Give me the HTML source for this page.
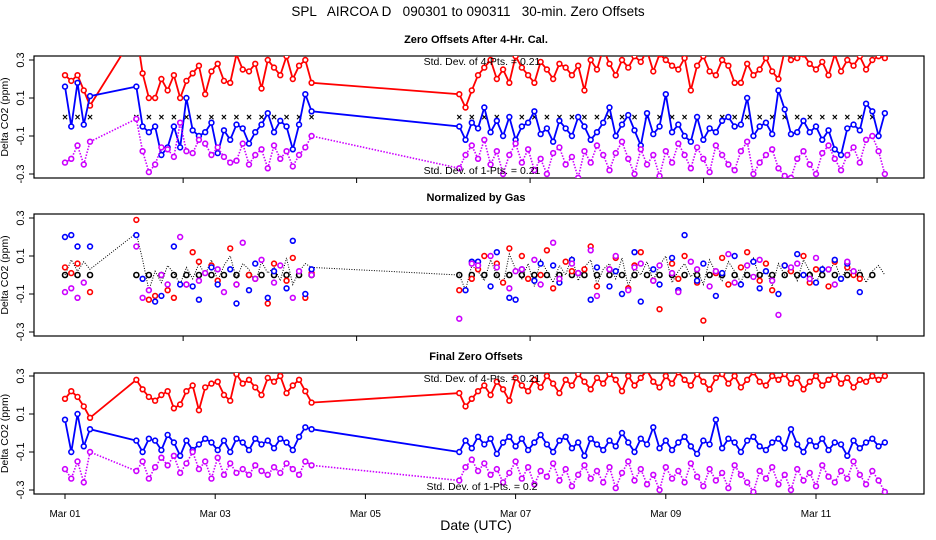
<!DOCTYPE html>
<html><head><meta charset="utf-8">
<style>
html,body{margin:0;padding:0;background:#fff;}
svg{display:block;font-family:"Liberation Sans",sans-serif;}
</style></head>
<body>
<svg id="chart" width="936" height="540" viewBox="0 0 936 540" xmlns="http://www.w3.org/2000/svg">
<text x="468" y="16" text-anchor="middle" font-size="13.5" style="white-space:pre">SPL   AIRCOA D   090301 to 090311   30-min. Zero Offsets</text>
<text x="476" y="530" text-anchor="middle" font-size="14">Date (UTC)</text>
</svg>
<script>
// ---- data ----
const segments = [[1.0,5],[1.95,29],[6.25,69]]; // [start day, count] sampled every 2 h
const calSegments = [[1.0,3],[1.95,15],[6.25,34]]; // 4-hr cal times
const p1Red = [0.22,0.19,0.22,0.14,0.06,
 0.45,0.23,0.10,0.10,0.20,0.14,0.22,0.10,0.19,0.23,0.27,0.12,0.24,0.28,0.19,0.18,0.33,0.25,0.24,0.28,0.15,0.30,0.26,0.22,0.32,0.20,0.27,0.30,0.18,
 0.12,0.05,0.14,0.22,0.26,0.30,0.20,0.25,0.18,0.32,0.26,0.22,0.18,0.29,0.25,0.20,0.28,0.26,0.22,0.27,0.14,0.30,0.25,0.36,0.28,0.22,0.30,0.26,0.32,0.29,0.35,0.24,0.33,0.30,0.27,0.25,0.31,0.14,0.27,0.32,0.24,0.22,0.30,0.27,0.18,0.18,0.28,0.22,0.25,0.31,0.24,0.20,0.35,0.30,0.31,0.33,0.28,0.25,0.29,0.22,0.33,0.24,0.30,0.27,0.32,0.25,0.30,0.32,0.31];
const p1Blue = [0.16,-0.05,0.18,-0.04,0.11,
 0.16,-0.05,-0.08,-0.05,-0.20,-0.16,-0.05,-0.16,0.10,-0.07,-0.10,-0.08,-0.03,-0.19,-0.07,-0.12,-0.04,-0.06,-0.14,-0.08,-0.04,0.02,-0.08,-0.02,-0.05,-0.17,-0.04,0.12,0.03,
 -0.05,-0.12,-0.03,-0.06,0.05,-0.08,-0.02,-0.10,0.00,-0.12,-0.05,-0.03,0.03,-0.09,-0.06,-0.13,-0.02,-0.06,-0.10,0.00,-0.05,-0.12,-0.08,-0.03,0.05,-0.10,-0.04,0.01,-0.07,-0.15,0.02,-0.09,-0.05,0.12,-0.08,-0.04,-0.10,-0.13,0.00,-0.12,-0.06,-0.08,-0.02,0.00,-0.05,-0.04,0.10,-0.10,-0.05,-0.03,-0.09,0.14,0.04,-0.09,-0.08,-0.02,-0.08,-0.05,-0.12,-0.07,-0.17,-0.20,-0.06,-0.04,-0.07,0.07,0.03,-0.10,0.02];
const p1Mag = [-0.24,-0.22,-0.15,-0.25,-0.13,
 -0.01,-0.18,-0.29,-0.25,-0.16,-0.17,-0.21,-0.03,-0.18,-0.19,-0.12,-0.14,-0.20,-0.16,-0.21,-0.24,-0.23,-0.14,-0.25,-0.20,-0.17,-0.27,-0.15,-0.22,-0.18,-0.26,-0.20,-0.16,-0.10,
 -0.27,-0.20,-0.15,-0.22,-0.12,-0.25,-0.18,-0.30,-0.20,-0.14,-0.24,-0.17,-0.28,-0.22,-0.30,-0.19,-0.16,-0.25,-0.21,-0.32,-0.18,-0.24,-0.15,-0.20,-0.28,-0.19,-0.13,-0.22,-0.30,-0.17,-0.25,-0.20,-0.31,-0.18,-0.24,-0.14,-0.20,-0.27,-0.16,-0.22,-0.29,-0.15,-0.20,-0.25,-0.28,-0.18,-0.13,-0.30,-0.24,-0.20,-0.17,-0.27,-0.31,-0.32,-0.22,-0.18,-0.25,-0.30,-0.19,-0.15,-0.22,-0.28,-0.20,-0.16,-0.24,-0.12,-0.10,-0.18,-0.30];
const p2Red = [0.04,0.01,0.06,null,-0.09,
 0.29,null,-0.13,-0.11,null,-0.08,-0.12,null,-0.05,0.12,0.07,null,0.05,-0.03,null,0.14,-0.05,null,0.00,-0.02,null,-0.15,0.06,null,-0.03,0.09,null,-0.12,0.01,
 -0.08,null,-0.02,0.03,0.10,null,0.06,-0.04,0.14,null,0.10,-0.02,null,0.00,0.13,-0.07,null,0.07,0.02,null,0.03,0.15,-0.06,null,0.03,0.09,null,-0.07,0.05,0.12,null,-0.03,-0.18,null,0.06,-0.02,0.10,null,-0.04,-0.24,null,0.01,0.09,-0.05,null,0.04,0.12,null,-0.03,0.06,-0.08,null,0.05,0.02,null,0.10,-0.04,0.03,null,-0.06,0.07,null,0.04,0.00,-0.02];
const p2Blue = [0.20,0.21,0.15,null,0.15,
 0.21,-0.02,null,-0.14,-0.11,null,0.15,-0.05,null,-0.06,-0.13,null,0.04,-0.05,null,0.03,-0.15,null,-0.08,0.06,null,-0.12,0.02,null,-0.07,0.18,null,-0.10,0.03,
 null,-0.08,0.07,0.07,null,-0.06,0.12,null,-0.12,-0.13,0.03,null,-0.03,0.06,null,0.05,-0.04,null,0.08,0.01,null,-0.13,0.04,null,-0.06,0.02,-0.10,null,0.12,-0.14,null,0.03,-0.05,null,0.09,-0.08,0.21,null,-0.03,0.06,null,-0.11,0.01,null,0.10,-0.05,null,0.07,-0.07,0.02,null,-0.10,0.05,null,0.11,0.00,null,-0.04,0.03,null,0.08,-0.02,0.06,null,-0.09];
const p2Mag = [-0.09,-0.07,-0.12,-0.04,null,
 0.15,-0.12,-0.08,null,0.00,-0.05,null,0.20,-0.05,null,-0.03,0.01,null,0.03,-0.09,null,-0.05,0.17,null,-0.02,0.08,null,-0.04,0.05,null,-0.12,0.02,null,0.00,
 -0.23,null,0.06,0.05,null,0.10,0.04,null,-0.07,0.02,0.03,null,0.08,-0.05,null,0.17,-0.02,null,0.06,0.01,null,0.13,-0.11,null,0.03,0.10,null,-0.08,0.04,0.06,null,-0.03,0.05,null,0.01,-0.09,null,0.07,0.03,null,-0.06,0.02,null,0.11,-0.04,null,0.05,-0.01,0.08,null,-0.03,-0.21,null,0.04,0.06,null,-0.02,0.09,null,0.03,-0.05,null,0.07,0.02];
const p2Mean = [0.00,0.08,0.02,0.07,0.03,
 0.22,0.08,-0.08,0.02,-0.04,0.05,0.01,-0.05,0.04,-0.02,0.06,0.00,0.08,-0.03,0.05,0.10,-0.02,0.06,0.03,-0.04,0.07,0.01,0.04,-0.03,0.09,-0.05,0.02,0.06,0.04,
 0.00,-0.08,0.05,0.02,-0.03,0.08,0.00,-0.05,0.11,0.03,-0.02,0.06,-0.06,0.08,0.02,-0.04,0.05,0.00,0.10,-0.03,0.04,0.08,-0.05,0.03,0.06,-0.02,0.09,-0.06,0.04,0.00,0.07,-0.03,0.05,0.10,-0.04,0.02,0.06,-0.01,0.03,-0.05,0.08,0.01,-0.03,0.07,0.02,-0.04,0.05,0.09,-0.02,0.03,-0.06,0.06,0.00,0.04,-0.03,0.08,0.02,-0.05,0.05,0.01,0.07,-0.02,0.04,0.00,0.03,-0.04,0.02,0.05,0.00];
const p3Red = [0.18,0.22,0.19,0.14,0.08,
 0.28,0.23,0.19,0.17,0.20,0.22,0.13,0.15,0.22,0.25,0.12,0.24,0.26,0.27,0.20,0.17,0.31,0.26,0.28,0.24,0.20,0.29,0.27,0.30,0.21,0.25,0.28,0.22,0.16,
 0.21,0.14,0.18,0.22,0.25,0.20,0.27,0.23,0.17,0.29,0.25,0.22,0.28,0.24,0.30,0.26,0.21,0.28,0.25,0.31,0.27,0.23,0.29,0.26,0.31,0.28,0.22,0.30,0.25,0.29,0.33,0.27,0.24,0.30,0.26,0.32,0.28,0.25,0.31,0.27,0.23,0.29,0.31,0.26,0.30,0.24,0.28,0.32,0.27,0.25,0.30,0.28,0.31,0.26,0.29,0.23,0.27,0.30,0.25,0.28,0.31,0.26,0.29,0.24,0.28,0.27,0.30,0.28,0.30];
const p3Blue = [0.07,-0.10,0.10,-0.07,0.02,
 -0.04,-0.10,-0.03,-0.04,-0.09,-0.01,-0.05,-0.12,-0.04,-0.09,-0.06,-0.03,-0.05,-0.09,-0.04,-0.10,-0.03,-0.05,-0.09,-0.03,-0.06,-0.04,-0.08,-0.03,-0.05,-0.09,-0.02,0.03,0.02,
 -0.10,-0.04,-0.08,-0.02,-0.06,-0.03,-0.11,-0.05,-0.02,-0.07,-0.03,-0.09,-0.05,-0.01,-0.06,-0.10,-0.04,-0.02,-0.08,-0.05,-0.12,-0.03,-0.06,-0.09,-0.04,-0.07,0.00,-0.05,-0.10,-0.03,-0.06,0.03,-0.08,-0.04,-0.09,-0.05,-0.02,-0.07,-0.11,-0.04,-0.06,0.07,-0.08,-0.03,-0.05,-0.10,-0.04,-0.02,-0.07,-0.09,-0.05,-0.03,-0.08,0.02,-0.06,-0.10,-0.04,-0.07,-0.03,-0.09,-0.05,-0.06,-0.12,-0.04,-0.08,-0.05,-0.03,-0.07,-0.05];
const p3Mag = [-0.19,-0.24,-0.15,-0.26,-0.10,
 -0.20,-0.15,-0.24,-0.18,-0.13,-0.17,-0.12,-0.21,-0.16,-0.10,-0.19,-0.15,-0.24,-0.13,-0.22,-0.16,-0.21,-0.19,-0.22,-0.17,-0.20,-0.22,-0.18,-0.21,-0.16,-0.19,-0.22,-0.15,-0.17,
 -0.25,-0.18,-0.14,-0.20,-0.16,-0.22,-0.19,-0.26,-0.21,-0.15,-0.24,-0.18,-0.27,-0.20,-0.23,-0.16,-0.25,-0.19,-0.28,-0.22,-0.17,-0.24,-0.20,-0.26,-0.18,-0.29,-0.21,-0.15,-0.25,-0.19,-0.27,-0.22,-0.30,-0.18,-0.24,-0.20,-0.26,-0.16,-0.23,-0.28,-0.19,-0.25,-0.21,-0.29,-0.17,-0.22,-0.26,-0.31,-0.20,-0.24,-0.18,-0.27,-0.22,-0.30,-0.19,-0.25,-0.21,-0.28,-0.17,-0.23,-0.26,-0.20,-0.24,-0.15,-0.22,-0.27,-0.20,-0.25,-0.31];
const yTicks = [-0.3,-0.1,0.1,0.3];
const yTickLabels = ["-0.3","-0.1","0.1","0.3"];
const dateTicks = [1,3,5,7,9,11];
const dateLabels = ["Mar 01","Mar 03","Mar 05","Mar 07","Mar 09","Mar 11"];
const topTickDays = [2.573,4.883,7.193,9.503,11.813];

// ---- scales ----
const NS="http://www.w3.org/2000/svg";
const svg=document.getElementById('chart');
const X0=34, X1=924;
function xs(d){return 65+75.1*(d-1);}
function mk(tag,attrs,parent){const e=document.createElementNS(NS,tag);for(const k in attrs)e.setAttribute(k,attrs[k]);(parent||svg).appendChild(e);return e;}
function times(segs,step){const t=[];segs.forEach(s=>{for(let i=0;i<s[1];i++)t.push(s[0]+i*step);});return t;}
const T=times(segments,1/12);
const CT=times(calSegments,1/6);

const panels=[
 {name:'panel-after-cal',title:'Zero Offsets After 4-Hr. Cal.',top:56,bot:178,y3:60,ym3:174,series:[[p1Red,'#ff0000','solid'],[p1Blue,'#0000ff','solid'],[p1Mag,'#cc00ff','dot']],marker:'x',sd:['Std. Dev. of 4-Pts. = 0.21','Std. Dev. of 1-Pts. = 0.21'],ticks:'top'},
 {name:'panel-normalized',title:'Normalized by Gas',top:214,bot:336,y3:218,ym3:332,series:[[p2Red,'#ff0000','none'],[p2Blue,'#0000ff','none'],[p2Mag,'#cc00ff','none']],marker:'o',sd:null,ticks:'top'},
 {name:'panel-final',title:'Final Zero Offsets',top:373,bot:494,y3:376,ym3:490,series:[[p3Red,'#ff0000','solid'],[p3Blue,'#0000ff','solid'],[p3Mag,'#cc00ff','dot']],marker:null,sd:['Std. Dev. of 4-Pts. = 0.21','Std. Dev. of 1-Pts. = 0.2'],ticks:'dates'}
];

panels.forEach((p,pi)=>{
 const ys=v=>p.ym3+(v+0.3)*(p.y3-p.ym3)/0.6;
 const g=mk('g',{});
 
 
 const cid='clip'+pi;
 const cp=mk('clipPath',{id:cid},g);
 mk('rect',{x:X0,y:p.top,width:X1-X0,height:p.bot-p.top},cp);
 const t=mk('text',{x:476,y:p.top-13,'text-anchor':'middle','font-size':'11','font-weight':'bold'},g);
 t.textContent=p.title;
 
 
 const ax=mk('g',{},g);
 
 
 mk('line',{x1:X0,x2:X0,y1:ys(-0.3),y2:ys(0.3),stroke:'#000'},ax);
 yTicks.forEach((v,i)=>{
  mk('line',{x1:X0-5,x2:X0,y1:ys(v),y2:ys(v),stroke:'#000'},ax);
  const l=mk('text',{x:0,y:0,'text-anchor':'middle','font-size':'11',transform:`translate(${X0-10},${ys(v)}) rotate(-90)`},ax);
  l.textContent=yTickLabels[i];
  
  
 });
 const yl=mk('text',{'text-anchor':'middle','font-size':'10.5',transform:`translate(8,${(p.top+p.bot)/2}) rotate(-90)`},ax);
 yl.textContent='Delta CO2 (ppm)';
 
 
 const b=mk('rect',{x:X0,y:p.top,width:X1-X0,height:p.bot-p.top,fill:'none',stroke:'#000','stroke-width':1.2},g);
 
 
 if(p.ticks==='top'){
  topTickDays.forEach(d=>mk('line',{x1:xs(d),x2:xs(d),y1:p.bot,y2:p.bot+5,stroke:'#000'},g));
 } else {
  mk('line',{x1:xs(1),x2:xs(11),y1:p.bot,y2:p.bot,stroke:'#000'},g);
  dateTicks.forEach((d,i)=>{
   mk('line',{x1:xs(d),x2:xs(d),y1:p.bot,y2:p.bot+5,stroke:'#000'},g);
   const l=mk('text',{x:xs(d),y:p.bot+23,'text-anchor':'middle','font-size':'10'},g);
   l.textContent=dateLabels[i];
   
   
  });
 }
 const plot=mk('g',{'clip-path':`url(#${cid})`},g);
 if(pi===1){
  let d='';p2Mean.forEach((v,i)=>{if(i<T.length)d+=(i?'L':'M')+xs(T[i]).toFixed(1)+','+ys(v).toFixed(1);});
  const ml=mk('path',{d,fill:'none',stroke:'#000','stroke-width':1,'stroke-dasharray':'1,1.5'},plot);
  
  
 }
 if(p.marker){
  CT.forEach(d=>{
   if(p.marker==='x'){
    const m=mk('text',{x:xs(d),y:ys(0)+3.5,'text-anchor':'middle','font-size':'10','font-weight':'bold'},plot);
    m.textContent='×';
    
    
   } else {
    const m=mk('circle',{cx:xs(d),cy:ys(0),r:2.5,fill:'none',stroke:'#000','stroke-width':1.6},plot);
    
    
   }
  });
 }
 p.series.forEach(([vals,col,style],si)=>{
  const sg=mk('g',{},plot);
  
  
  if(style!=='none'){
   let d='';let first=true;
   vals.forEach((v,i)=>{if(i<T.length&&v!==null){d+=(first?'M':'L')+xs(T[i]).toFixed(1)+','+ys(v).toFixed(1);first=false;}});
   const a={d,fill:'none',stroke:col,'stroke-width':style==='dot'?1.6:1.8};
   if(style==='dot')a['stroke-dasharray']='1.5,1.5';
   mk('path',a,sg);
  }
  vals.forEach((v,i)=>{
   if(i>=T.length||v===null)return;
   const c=mk('circle',{cx:xs(T[i]),cy:ys(v),r:2.4,fill:'#fff',stroke:col,'stroke-width':1.6},sg);
   
   
  });
 });
 if(p.sd){
  [[p.sd[0],p.top+9],[p.sd[1],p.bot-4]].forEach(([s,y])=>{
   const l=mk('text',{x:482,y:y,'text-anchor':'middle','font-size':'10.5'},g);
   l.textContent=s;
   
   
  });
 }
});
</script>
</body></html>
